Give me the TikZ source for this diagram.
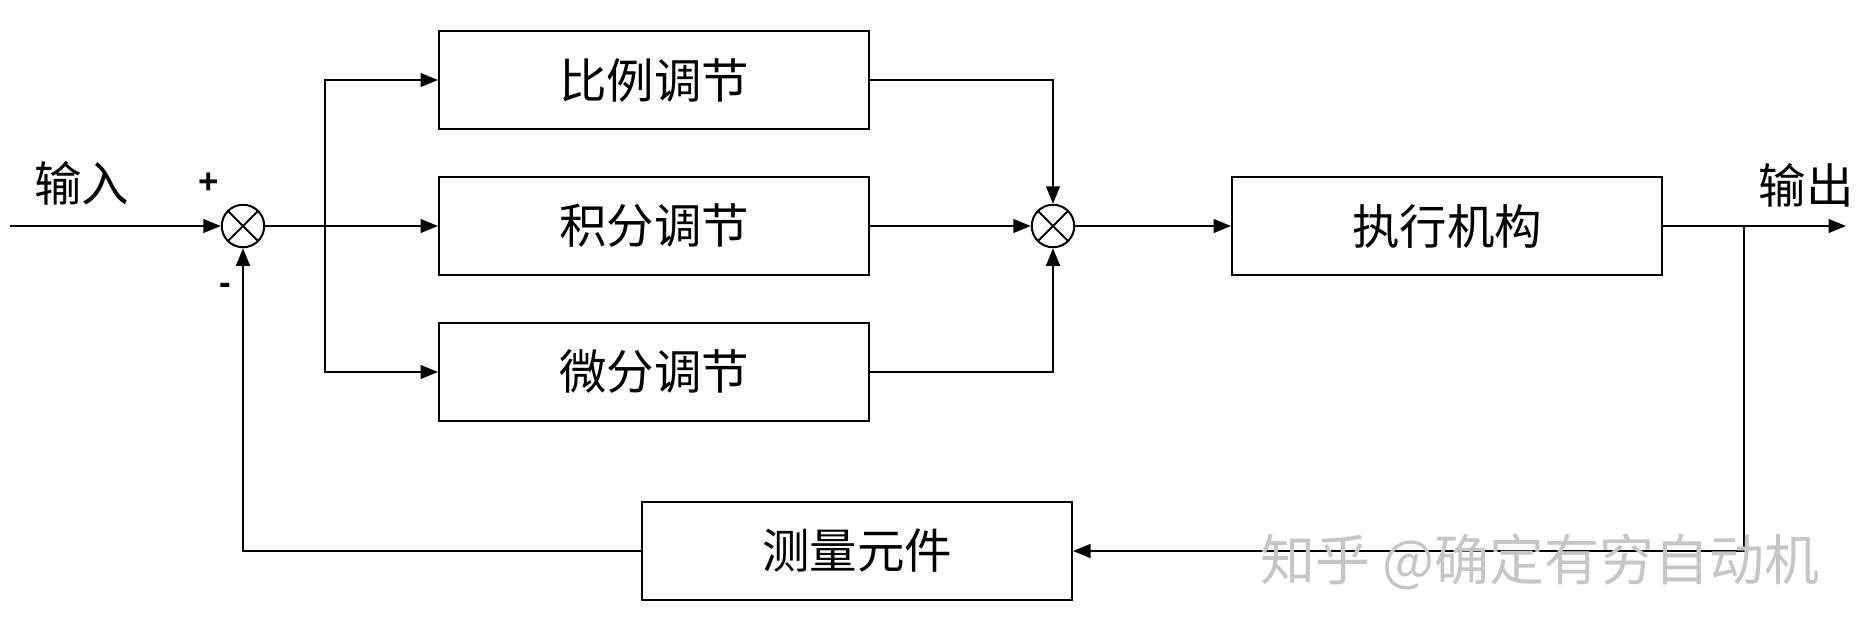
\documentclass[tikz,border=0pt]{standalone}
\usepackage{fontspec}
\newfontfamily\cjk{Noto Sans CJK SC}
\newfontfamily\lsans{Liberation Sans}
\usetikzlibrary{arrows.meta}
\begin{document}
\begin{tikzpicture}[x=0.4pt,y=-0.4pt,
  line width=0.8pt,
  arr/.style={-{Triangle[length=7pt,width=5.5pt]}},
  blk/.style={draw,minimum width=172pt,minimum height=39pt,inner sep=0pt,font=\cjk\fontsize{19}{22}\selectfont},
  sumnode/.style={draw,circle,minimum size=17pt,inner sep=0pt},
  lbl/.style={font=\cjk\fontsize{19}{22}\selectfont,inner sep=0pt}]
\useasboundingbox (0,0) rectangle (1874,622);
% summing junctions
\node[sumnode] (s1) at (243,226) {};
\draw (s1.north west) -- (s1.south east) (s1.north east) -- (s1.south west);
\node[sumnode] (s2) at (1053,226) {};
\draw (s2.north west) -- (s2.south east) (s2.north east) -- (s2.south west);
% blocks
\node[blk] (P) at (654,80) {比例调节};
\node[blk] (I) at (654,226) {积分调节};
\node[blk] (D) at (654,372) {微分调节};
\node[blk] (A) at (1447,226) {执行机构};
\node[blk] (M) at (857,551) {测量元件};
% coordinates
\coordinate (in) at (10,226);
\coordinate (bx) at (325,226);
\coordinate (br) at (1744,226);
\coordinate (out) at (1846,226);
% labels
\node[lbl] (lin) at (82,183) {输入};
\node[lbl] (lout) at (1806,185) {输出};
\node[font=\lsans\bfseries\fontsize{14}{16}\selectfont,inner sep=0pt] (plus) at (209,183) {+};
\node[font=\lsans\bfseries\fontsize{14}{16}\selectfont,inner sep=0pt] (minus) at (225,289) {-};
% connectors
\draw[arr] (in) -- (s1.west);
\draw[arr] (s1.east) -- (I.west);
\draw[arr] (bx) |- (P.west);
\draw[arr] (bx) |- (D.west);
\draw[arr] (P.east) -| (s2.north);
\draw[arr] (D.east) -| (s2.south);
\draw[arr] (I.east) -- (s2.west);
\draw[arr] (s2.east) -- (A.west);
\draw[arr] (A.east) -- (out);
\draw[arr] (br) |- (M.east);
\draw[arr] (M.west) -| (s1.south);
% watermark
\node[font=\cjk\fontsize{22}{24}\selectfont,text=gray!45,inner sep=0pt] (wm) at (1540,562) {知乎 @确定有穷自动机};
\end{tikzpicture}
\end{document}
